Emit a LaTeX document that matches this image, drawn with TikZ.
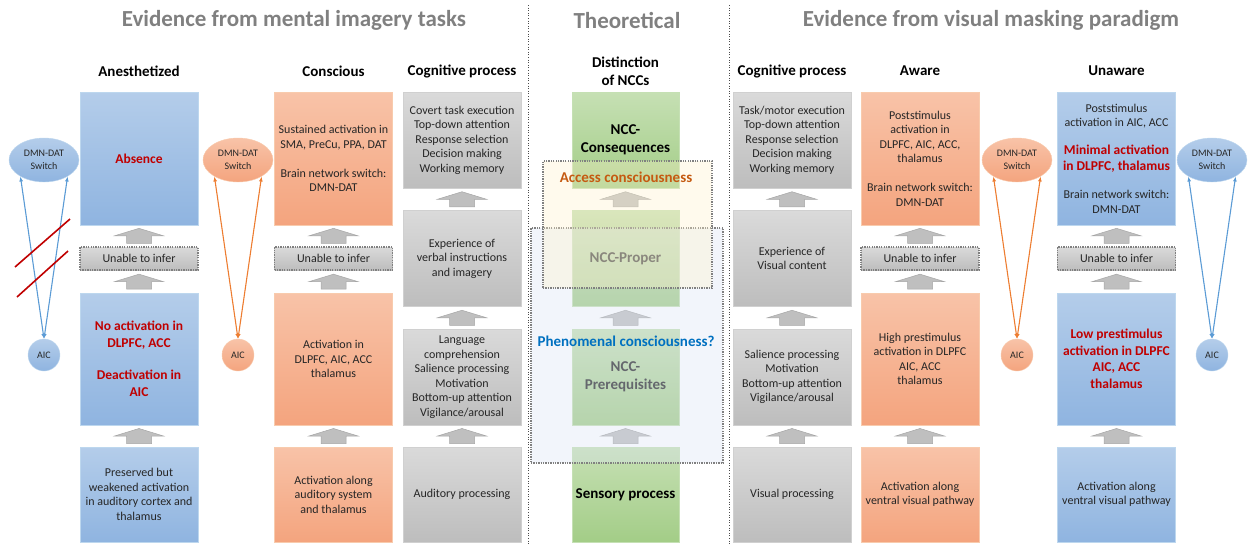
\documentclass[tikz,border=0pt]{standalone}
\usepackage{fontspec}
\setmainfont{Carlito}
\usepackage{xcolor}
\definecolor{txt}{HTML}{262626}
\definecolor{titlegray}{HTML}{808080}
\definecolor{redtxt}{HTML}{C00000}
\definecolor{bluetop}{HTML}{B4CDEA}
\definecolor{bluebot}{HTML}{8FB4E0}
\definecolor{blueedge}{HTML}{BDD7EE}
\definecolor{orgtop}{HTML}{F8C3A8}
\definecolor{orgbot}{HTML}{F4A47E}
\definecolor{orgedge}{HTML}{F8CBAD}
\definecolor{graytop}{HTML}{DADADA}
\definecolor{graybot}{HTML}{BDBDBD}
\definecolor{grayedge}{HTML}{D0D0D0}
\definecolor{grntop}{HTML}{C6E0B4}
\definecolor{grnbot}{HTML}{A3CD87}
\definecolor{grnedge}{HTML}{C5E0B4}
\definecolor{dotgray}{HTML}{808080}
\definecolor{arrowfill}{HTML}{BFBFBF}
\definecolor{arrowedge}{HTML}{A6A6A6}
\definecolor{lineblue}{HTML}{5B9BD5}
\definecolor{lineorg}{HTML}{ED7D31}
\definecolor{accfill}{HTML}{FFF2CC}
\definecolor{accorg}{HTML}{C55A11}
\definecolor{phefill}{HTML}{DAE3F3}
\definecolor{pheblue}{HTML}{0070C0}
\usetikzlibrary{calc, arrows.meta, shapes.geometric}

\newcommand{\redbold}[1]{{\fontsize{13.5}{16.5}\selectfont\bfseries\color{redtxt}#1}}

\begin{document}
\begin{tikzpicture}[x=1pt, y=-1pt]
% ============================================================
%  NCC evidence chart: imagery tasks, theory, visual masking
% ============================================================

\tikzset{
  box/.style={rectangle, inner sep=2pt, align=center, text=txt,
    minimum width=118, line width=0.5pt,
    font=\fontsize{12}{14.5}\selectfont},
  bluebox/.style={box, draw=blueedge, top color=bluetop, bottom color=bluebot},
  orgbox/.style={box, draw=orgedge, top color=orgtop, bottom color=orgbot},
  graybox/.style={box, draw=grayedge, top color=graytop, bottom color=graybot},
  grnbox/.style={box, draw=grnedge, top color=grntop, bottom color=grnbot,
    minimum width=107, text=black, font=\fontsize{15}{18}\selectfont\bfseries},
  hot/.style={text=redtxt, font=\fontsize{13.5}{16.5}\selectfont\bfseries},
  rowtall/.style={minimum height=133},
  rowmid/.style={minimum height=132},
  rowbot/.style={minimum height=95},
  rowstd/.style={minimum height=96},
  unable/.style={graybox, draw=dotgray, line width=1.2pt,
    dash pattern=on 1.3pt off 1.1pt, minimum height=23},
  ovl/.style={rectangle, draw=dotgray, line width=1.1pt,
    dash pattern=on 1.3pt off 1.1pt, fill opacity=0.35},
  ovllabel/.style={font=\fontsize{15}{18}\selectfont\bfseries},
  switch/.style={ellipse, minimum width=70, minimum height=44, inner sep=0,
    align=center, text=txt, font=\fontsize{10}{13}\selectfont},
  aic/.style={circle, minimum size=32, inner sep=0, text=txt,
    font=\fontsize{10}{12}\selectfont},
  bluefill/.style={draw=blueedge, top color=bluetop, bottom color=bluebot},
  orgfill/.style={draw=orgedge, top color=orgtop, bottom color=orgbot},
  conn/.style={{Latex[length=5pt,width=4pt]}-{Latex[length=5pt,width=4pt]},
    line width=1.1pt},
  head/.style={align=center, text=black, font=\fontsize{15}{18}\selectfont\bfseries},
  bigtitle/.style={text=titlegray, font=\fontsize{23}{28}\selectfont\bfseries},
  sepline/.style={black!70, line width=0.6pt, dotted},
  slash/.style={redtxt, line width=1.6pt},
  uparr/.pic={
    \draw[arrowedge, fill=arrowfill, line width=0.5pt]
      (-12.5,7.5) -- (-12.5,0) -- (-24.5,0) -- (0,-7.5)
      -- (24.5,0) -- (12.5,0) -- (12.5,7.5) -- cycle;
  },
}

\useasboundingbox (0,0) rectangle (1253,544);

% ── Section titles and separators ─────────────────────────
\node[bigtitle] (tImg) at (294,20) {Evidence from mental imagery tasks};
\node[bigtitle] (tThe) at (627,20) {Theoretical};
\node[bigtitle] (tMask) at (991,20) {Evidence from visual masking paradigm};
\draw[sepline] (528,5) -- (528,544);
\draw[sepline] (729,5) -- (729,544);

% ── Column headers ────────────────────────────────────────
\node[head] (hAn) at (139,71) {Anesthetized};
\node[head] (hCo) at (333.5,71) {Conscious};
\node[head] (hCpa) at (462,71) {Cognitive process};
\node[head] (hNcc) at (625.5,71) {Distinction\\of NCCs};
\node[head] (hCpb) at (792,71) {Cognitive process};
\node[head] (hAw) at (920,71) {Aware};
\node[head] (hUn) at (1116.5,71) {Unaware};

% ── Anesthetized ──────────────────────────────────────────
\node[bluebox, hot, rowtall] (an1) at (139,158.5) {Absence};
\node[unable] (an2) at (139,258.5) {Unable to infer};
\node[bluebox, hot, rowmid] (an3) at (139,359)
  {No activation in\\DLPFC, ACC\\[16pt]Deactivation in\\AIC};
\node[bluebox, rowbot] (an4) at (139,494.5)
  {Preserved but\\weakened activation\\in auditory cortex and\\thalamus};

% ── Conscious ─────────────────────────────────────────────
\node[orgbox, rowtall] (co1) at (333.5,158.5)
  {Sustained activation in\\SMA, PreCu, PPA, DAT\\[14.5pt]Brain network switch:\\DMN-DAT};
\node[unable] (co2) at (333.5,258.5) {Unable to infer};
\node[orgbox, rowmid] (co3) at (333.5,359)
  {Activation in\\DLPFC, AIC, ACC\\thalamus};
\node[orgbox, rowbot] (co4) at (333.5,494.5)
  {Activation along\\auditory system\\and thalamus};

% ── Cognitive process (imagery) ───────────────────────────
\node[graybox, rowstd] (cpa1) at (462,140)
  {Covert task execution\\Top-down attention\\Response selection\\Decision making\\Working memory};
\node[graybox, rowstd] (cpa2) at (462,258.5)
  {Experience of\\verbal instructions\\and imagery};
\node[graybox, rowstd] (cpa3) at (462,377)
  {Language\\comprehension\\Salience processing\\Motivation\\Bottom-up attention\\Vigilance/arousal};
\node[graybox, rowbot] (cpa4) at (462,494.5) {Auditory processing};

% ── Distinction of NCCs ───────────────────────────────────
\node[grnbox, rowstd] (ncc1) at (625.5,140) {NCC-\\Consequences};
\node[grnbox, rowstd] (ncc2) at (625.5,258.5) {NCC-Proper};
\node[grnbox, rowstd, text=black!85] (ncc3) at (625.5,377) {NCC-\\Prerequisites};
\node[grnbox, rowbot] (ncc4) at (625.5,494.5) {Sensory process};

% ── Cognitive process (masking) ───────────────────────────
\node[graybox, rowstd] (cpb1) at (792,140)
  {Task/motor execution\\Top-down attention\\Response selection\\Decision making\\Working memory};
\node[graybox, rowstd] (cpb2) at (792,258.5) {Experience of\\Visual content};
\node[graybox, rowstd] (cpb3) at (792,377)
  {Salience processing\\Motivation\\Bottom-up attention\\Vigilance/arousal};
\node[graybox, rowbot] (cpb4) at (792,494.5) {Visual processing};

% ── Aware ─────────────────────────────────────────────────
\node[orgbox, rowtall] (aw1) at (920,158.5)
  {Poststimulus\\activation in\\DLPFC, AIC, ACC,\\thalamus\\[14.5pt]Brain network switch:\\DMN-DAT};
\node[unable] (aw2) at (920,258.5) {Unable to infer};
\node[orgbox, rowmid] (aw3) at (920,359)
  {High prestimulus\\activation in DLPFC\\AIC, ACC\\thalamus};
\node[orgbox, rowbot] (aw4) at (920,494.5)
  {Activation along\\ventral visual pathway};

% ── Unaware ───────────────────────────────────────────────
\node[bluebox, rowtall] (un1) at (1116.5,158.5)
  {Poststimulus\\activation in AIC, ACC\\[13pt]\redbold{Minimal activation}\\[1.5pt]%
   \redbold{in DLPFC, thalamus}\\[14pt]Brain network switch:\\DMN-DAT};
\node[unable] (un2) at (1116.5,258.5) {Unable to infer};
\node[bluebox, hot, rowmid] (un3) at (1116.5,359)
  {Low prestimulus\\activation in DLPFC\\AIC, ACC\\thalamus};
\node[bluebox, rowbot] (un4) at (1116.5,494.5)
  {Activation along\\ventral visual pathway};

% ── Upward block arrows between stages ────────────────────
\foreach \hi/\lo in {an1/an2, an2/an3, an3/an4, co1/co2, co2/co3, co3/co4,
    cpa1/cpa2, cpa2/cpa3, cpa3/cpa4, ncc1/ncc2, ncc2/ncc3, ncc3/ncc4,
    cpb1/cpb2, cpb2/cpb3, cpb3/cpb4, aw1/aw2, aw2/aw3, aw3/aw4,
    un1/un2, un2/un3, un3/un4}{
  \pic at ($(\hi.south)!0.5!(\lo.north)$) {uparr};
}

% ── Consciousness overlays ────────────────────────────────
\node[ovl, fill=phefill, minimum width=192, minimum height=235] (phe) at (627,345.5) {};
\node[ovl, fill=accfill, minimum width=169, minimum height=127] (acc) at (627.5,224.5) {};
\node[ovllabel, text=accorg] (accLbl) at (626,177) {Access consciousness};
\node[ovllabel, text=pheblue] (pheLbl) at (626,341) {Phenomenal consciousness?};

% ── DMN-DAT switch and AIC ────────────────────────────────
\node[switch, bluefill] (swA) at (44,160) {DMN-DAT\\Switch};
\node[aic, bluefill] (aicA) at (44,355) {AIC};
\node[switch, orgfill] (swB) at (238,160) {DMN-DAT\\Switch};
\node[aic, orgfill] (aicB) at (238,355) {AIC};
\node[switch, orgfill] (swC) at (1017,160) {DMN-DAT\\Switch};
\node[aic, orgfill] (aicC) at (1017,355) {AIC};
\node[switch, bluefill] (swD) at (1212,160) {DMN-DAT\\Switch};
\node[aic, bluefill] (aicD) at (1212,355) {AIC};

\foreach \s/\a/\c in {swA/aicA/lineblue, swB/aicB/lineorg,
    swC/aicC/lineorg, swD/aicD/lineblue}{
  \draw[conn, \c] (\a.north) -- (\s.215);
  \draw[conn, \c] (\a.north) -- (\s.325);
}

% switch blocked under anesthesia
\draw[slash] (15,267) -- (70,219);
\draw[slash] (17,297) -- (68,251);

\end{tikzpicture}
\end{document}
